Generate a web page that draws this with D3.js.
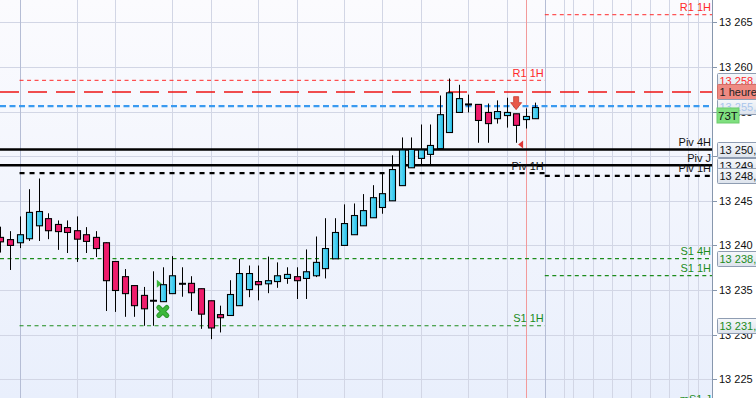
<!DOCTYPE html>
<html>
<head>
<meta charset="utf-8">
<script src="https://cdn.jsdelivr.net/npm/d3@7"></script>
<style>
html, body { margin: 0; padding: 0; background: #fff; }
svg { display: block; font-family: "Liberation Sans", Arial, sans-serif; }
</style>
</head>
<body>
<svg id="chart" width="756" height="398"></svg>
<script>
// candles, one per row: [open, high, low, close]
const ohlc = [
  [13240.9, 13242.1, 13239.2, 13240.4],
  [13240.65, 13241.6, 13237.25, 13240.0],
  [13240.3, 13243.25, 13239.7, 13241.2],
  [13240.75, 13246.3, 13240.5, 13243.7],
  [13242.2, 13247.5, 13240.5, 13243.8],
  [13243.0, 13243.6, 13240.7, 13241.65],
  [13242.35, 13242.8, 13239.5, 13241.55],
  [13242.0, 13242.8, 13239.15, 13241.45],
  [13241.65, 13243.25, 13238.15, 13240.7],
  [13241.2, 13242.05, 13239.15, 13240.45],
  [13240.9, 13241.6, 13238.7, 13239.65],
  [13240.3, 13240.35, 13232.65, 13236.05],
  [13238.2, 13238.2, 13232.55, 13234.95],
  [13236.5, 13237.35, 13232.0, 13234.6],
  [13235.5, 13235.5, 13232.0, 13233.25],
  [13234.4, 13235.35, 13231.0, 13232.9],
  [13233.8, 13237.1, 13231.0, 13233.8],
  [13233.7, 13237.55, 13233.7, 13235.6],
  [13234.6, 13238.8, 13234.6, 13236.6],
  [13235.7, 13237.55, 13234.25, 13235.7],
  [13235.75, 13236.55, 13232.65, 13234.7],
  [13235.15, 13235.15, 13230.65, 13232.3],
  [13233.8, 13233.8, 13229.5, 13230.75],
  [13232.25, 13233.25, 13230.25, 13231.9],
  [13232.15, 13236.1, 13232.15, 13234.5],
  [13233.25, 13238.5, 13233.25, 13236.85],
  [13235.05, 13237.75, 13234.2, 13236.85],
  [13235.95, 13237.75, 13233.85, 13235.6],
  [13235.7, 13238.75, 13234.65, 13236.05],
  [13235.95, 13238.1, 13235.25, 13236.6],
  [13236.3, 13237.55, 13235.7, 13236.75],
  [13236.5, 13237.55, 13234.0, 13236.05],
  [13236.3, 13239.55, 13234.0, 13237.05],
  [13236.6, 13241.0, 13236.45, 13238.1],
  [13237.4, 13243.05, 13236.3, 13239.65],
  [13238.5, 13243.05, 13238.5, 13241.45],
  [13240.0, 13244.6, 13240.0, 13242.45],
  [13241.2, 13244.7, 13241.2, 13243.35],
  [13242.2, 13245.75, 13242.2, 13243.9],
  [13243.1, 13246.75, 13243.1, 13245.35],
  [13244.25, 13248.05, 13243.55, 13245.8],
  [13245.0, 13250.1, 13245.0, 13248.5],
  [13246.7, 13252.1, 13246.7, 13250.7],
  [13248.7, 13252.1, 13248.7, 13250.75],
  [13249.75, 13253.55, 13249.0, 13250.7],
  [13250.2, 13253.55, 13249.05, 13251.2],
  [13250.85, 13256.8, 13250.85, 13254.65],
  [13252.65, 13258.7, 13252.65, 13257.1],
  [13254.9, 13258.0, 13254.9, 13256.45],
  [13255.8, 13256.9, 13254.9, 13255.8],
  [13255.8, 13255.8, 13251.5, 13254.0],
  [13254.9, 13255.9, 13251.5, 13253.65],
  [13254.2, 13256.25, 13253.65, 13255.0],
  [13254.55, 13256.55, 13253.2, 13254.9],
  [13254.75, 13254.75, 13251.5, 13253.45],
  [13254.1, 13255.35, 13253.1, 13254.45],
  [13254.2, 13256.0, 13254.2, 13255.45]
];

// price ticks on the right axis
const priceTicks = [13220, 13225, 13230, 13235, 13240, 13245, 13250, 13255, 13260, 13265, 13270];
const tickLabels = priceTicks.map(p => "13 " + String(p).slice(2));

// bar slots where the time grid falls (2 and 57 are session breaks)
const gridSlots = [2, 8, 12, 18, 22, 27, 31, 36, 40, 44, 49, 53, 57, 59, 60, 62, 64, 66, 68, 70, 72, 73];
const sessionSlots = [2, 57];
const nowSlot = 55;

// pivot / support / resistance levels (from, to = bar slot, null = chart edge)
const levels = [
  { label: "R1 1H", price: 13265.85, from: 57, to: null, kind: "r" },
  { label: "R1 1H", price: 13258.5, from: 2, to: 57, kind: "r" },
  { label: "", price: 13257.2, from: null, to: null, kind: "hour" },
  { label: "", price: 13255.6, from: null, to: null, kind: "last" },
  { label: "Piv 4H", price: 13250.75, from: null, to: null, kind: "piv" },
  { label: "Piv J", price: 13248.98, from: null, to: null, kind: "piv" },
  { label: "Piv 1H", price: 13248.1, from: 2, to: 57, kind: "piv1" },
  { label: "Piv 1H", price: 13247.8, from: 57, to: null, kind: "piv1" },
  { label: "S1 4H", price: 13238.52, from: null, to: null, kind: "s" },
  { label: "S1 1H", price: 13236.62, from: 57, to: null, kind: "s" },
  { label: "S1 1H", price: 13231.0, from: 2, to: 57, kind: "s" },
  { label: "mS1 J", price: 13221.9, from: 57, to: null, kind: "s" }
];

// tags on the price axis, drawn in this order
const priceTags = [
  { text: "13 258,5", price: 13258.5, kind: "r" },
  { text: "1 heure", price: 13257.2, kind: "hour" },
  { text: "13 255,6", price: 13255.6, kind: "last" },
  { text: "13 250,7", price: 13250.75, kind: "piv" },
  { text: "13 249,0", price: 13248.98, kind: "piv" },
  { text: "13 248,0", price: 13247.8, kind: "piv" },
  { text: "13 238,5", price: 13238.52, kind: "s" },
  { text: "13 231,0", price: 13231.0, kind: "s" }
];

// signal markers: slot, price
const markers = [
  { type: "triRight", slot: 17, price: 13235.7, color: "#3cb83c" },
  { type: "cross", slot: 17, price: 13232.6, color: "#3cb83c" },
  { type: "arrowDown", slot: 54, price: 13256.0, color: "#e8584a" },
  { type: "triLeft", slot: 54, price: 13251.3, color: "#e03838" }
];

const styles = {
  r:    { color: "#ff2a2a", dash: "4,3.5", width: 1, text: "#ff2a2a" },
  hour: { color: "#ee1414", dash: "19,9", width: 1.5, text: "#222" },
  last: { color: "#3a9af0", dash: "6,3.5", width: 2.2, text: "#a9c6ec" },
  piv:  { color: "#000", dash: null, width: 2.4, text: "#111" },
  piv1: { color: "#000", dash: "5,5", width: 2.2, text: "#111" },
  s:    { color: "#1c8c1c", dash: "4,3.5", width: 1.2, text: "#1c8c1c" }
};

const W = 756, H = 398;
const plotRight = 712;

const svg = d3.select("#chart");

// slot -> x, price -> y
const x = d3.scaleLinear().domain([0, 56]).range([0.45, 535.25]);
const y = d3.scaleLinear().domain([13225, 13265]).range([379.3, 22.3]);

const defs = svg.append("defs");
const bg = defs.append("linearGradient").attr("id", "bg").attr("x1", 0).attr("y1", 0).attr("x2", 0).attr("y2", 1);
bg.append("stop").attr("offset", "0%").attr("stop-color", "#fbfbfe");
bg.append("stop").attr("offset", "100%").attr("stop-color", "#e9effc");

const tagBg = defs.append("linearGradient").attr("id", "tagbg").attr("x1", 0).attr("y1", 0).attr("x2", 0).attr("y2", 1);
tagBg.append("stop").attr("offset", "0%").attr("stop-color", "#f6f8fb");
tagBg.append("stop").attr("offset", "100%").attr("stop-color", "#dde3ec");

const upFill = defs.append("linearGradient").attr("id", "up").attr("x1", 0).attr("y1", 0).attr("x2", 1).attr("y2", 0);
upFill.append("stop").attr("offset", "0%").attr("stop-color", "#6fe0fa");
upFill.append("stop").attr("offset", "100%").attr("stop-color", "#22bfe9");

defs.append("clipPath").attr("id", "plotclip")
  .append("rect").attr("x", 0).attr("y", 0).attr("width", plotRight).attr("height", H);

svg.append("rect").attr("width", W).attr("height", H).attr("fill", "#fff");
svg.append("rect").attr("width", plotRight).attr("height", H).attr("fill", "url(#bg)");

const plot = svg.append("g").attr("clip-path", "url(#plotclip)");

// grid
plot.append("g").selectAll("line")
  .data(priceTicks)
  .join("line")
  .attr("x1", 0).attr("x2", plotRight)
  .attr("y1", d => Math.round(y(d)) + 0.5)
  .attr("y2", d => Math.round(y(d)) + 0.5)
  .attr("stroke", "#d2d6e5");

plot.append("g").selectAll("line")
  .data(gridSlots)
  .join("line")
  .attr("x1", d => Math.round(x(d)) + 0.5)
  .attr("x2", d => Math.round(x(d)) + 0.5)
  .attr("y1", 0).attr("y2", H)
  .attr("stroke", d => sessionSlots.includes(d) ? "#b5bdd5" : "#d2d6e5");

plot.append("line")
  .attr("x1", Math.round(x(nowSlot)) + 0.5).attr("x2", Math.round(x(nowSlot)) + 0.5)
  .attr("y1", 0).attr("y2", H)
  .attr("stroke", "#f29a9a");

// levels
const lvl = plot.append("g");
levels.forEach(d => {
  const s = styles[d.kind];
  const x1 = d.from === null ? 0 : x(d.from);
  const x2 = d.to === null ? plotRight : x(d.to);
  const yy = y(d.price);
  lvl.append("line")
    .attr("x1", x1).attr("x2", x2)
    .attr("y1", yy).attr("y2", yy)
    .attr("stroke", s.color)
    .attr("stroke-width", s.width)
    .attr("stroke-dasharray", s.dash);
  if (d.label) {
    lvl.append("text")
      .attr("x", x2 - 1)
      .attr("y", yy - 3.5)
      .attr("text-anchor", "end")
      .attr("font-size", "11px")
      .attr("fill", d.kind === "piv" || d.kind === "piv1" ? "#111" : s.color)
      .text(d.label);
  }
});

// markers behind candles
const mk = plot.append("g");
markers.forEach(m => {
  const cx = x(m.slot), cy = y(m.price);
  if (m.type === "triRight") {
    mk.append("path")
      .attr("d", `M${cx - 6},${cy - 4}L${cx - 1},${cy}L${cx - 6},${cy + 4}Z`)
      .attr("fill", m.color);
  }
});

// candles
const candle = plot.append("g").selectAll("g")
  .data(ohlc)
  .join("g")
  .attr("transform", (d, i) => `translate(${Math.round(x(i)) + 0.5},0)`);

candle.append("line")
  .attr("y1", d => y(d[1]))
  .attr("y2", d => y(d[2]))
  .attr("stroke", "#000")
  .attr("stroke-width", 1);

candle.filter(d => d[0] !== d[3])
  .append("rect")
  .attr("x", -3)
  .attr("width", 6)
  .attr("y", d => y(Math.max(d[0], d[3])))
  .attr("height", d => Math.max(1, Math.abs(y(d[0]) - y(d[3]))))
  .attr("fill", d => d[3] > d[0] ? "url(#up)" : "#ef1c6c")
  .attr("stroke", "#000")
  .attr("stroke-width", 1.1);

candle.filter(d => d[0] === d[3])
  .append("line")
  .attr("x1", -3.5).attr("x2", 3.5)
  .attr("y1", d => y(d[0])).attr("y2", d => y(d[0]))
  .attr("stroke", "#000")
  .attr("stroke-width", 2);

// markers on top
markers.forEach(m => {
  const cx = x(m.slot), cy = y(m.price);
  if (m.type === "cross") {
    const r = 4;
    plot.append("path")
      .attr("d", `M${cx - r},${cy - r}L${cx + r},${cy + r}M${cx + r},${cy - r}L${cx - r},${cy + r}`)
      .attr("stroke", "#2f9a2f").attr("stroke-width", 5).attr("stroke-linecap", "round");
    plot.append("path")
      .attr("d", `M${cx - r},${cy - r}L${cx + r},${cy + r}M${cx + r},${cy - r}L${cx - r},${cy + r}`)
      .attr("stroke", m.color).attr("stroke-width", 3).attr("stroke-linecap", "round");
  } else if (m.type === "arrowDown") {
    plot.append("path")
      .attr("d", `M${cx - 2.5},${cy - 6}L${cx + 2.5},${cy - 6}L${cx + 2.5},${cy}L${cx + 5.5},${cy}L${cx},${cy + 7}L${cx - 5.5},${cy}L${cx - 2.5},${cy}Z`)
      .attr("fill", m.color).attr("stroke", "#c83a32").attr("stroke-width", 0.8);
  } else if (m.type === "triLeft") {
    plot.append("path")
      .attr("d", `M${cx + 2},${cy}L${cx + 7},${cy - 4}L${cx + 7},${cy + 4}Z`)
      .attr("fill", m.color);
  }
});

// price axis
const axisG = svg.append("g");
axisG.append("line")
  .attr("x1", plotRight + 0.5).attr("x2", plotRight + 0.5)
  .attr("y1", 0).attr("y2", H)
  .attr("stroke", "#8797ad");

axisG.selectAll(".tick")
  .data(priceTicks)
  .join("g")
  .attr("class", "tick")
  .attr("transform", d => `translate(${plotRight},${Math.round(y(d)) + 0.5})`)
  .each(function(d, i) {
    const g = d3.select(this);
    g.append("line").attr("x1", 0).attr("x2", 5).attr("stroke", "#8797ad");
    g.append("text")
      .attr("x", 7)
      .attr("dy", "0.35em")
      .attr("font-size", "11px")
      .attr("fill", "#111")
      .text(tickLabels[i]);
  });

// price tags
priceTags.forEach(t => {
  const s = styles[t.kind];
  const cy = y(t.price);
  const g = svg.append("g").attr("transform", `translate(717.5,${Math.round(cy - 7.5) + 0.5})`);
  g.append("rect")
    .attr("width", 50).attr("height", 15).attr("rx", 1)
    .attr("fill", t.kind === "hour" ? "#ef8a82" : "url(#tagbg)")
    .attr("stroke", t.kind === "hour" ? "#d07068" : "#8f9db2");
  g.append("text")
    .attr("x", 2).attr("y", 11.5)
    .attr("font-size", "11px")
    .attr("fill", s.text)
    .text(t.text);
});

// bar countdown tag under the last price
const last = ohlc[ohlc.length - 1][3];
const cd = svg.append("g").attr("transform", `translate(717,${Math.round(y(last))})`);
cd.append("rect").attr("width", 22).attr("height", 15).attr("fill", "#7fdf7f").attr("stroke", "#6ccc6c");
cd.append("text").attr("x", 11).attr("y", 11.5).attr("text-anchor", "middle")
  .attr("font-size", "11.5px").attr("fill", "#111").text("73T");
</script>
</body>
</html>
